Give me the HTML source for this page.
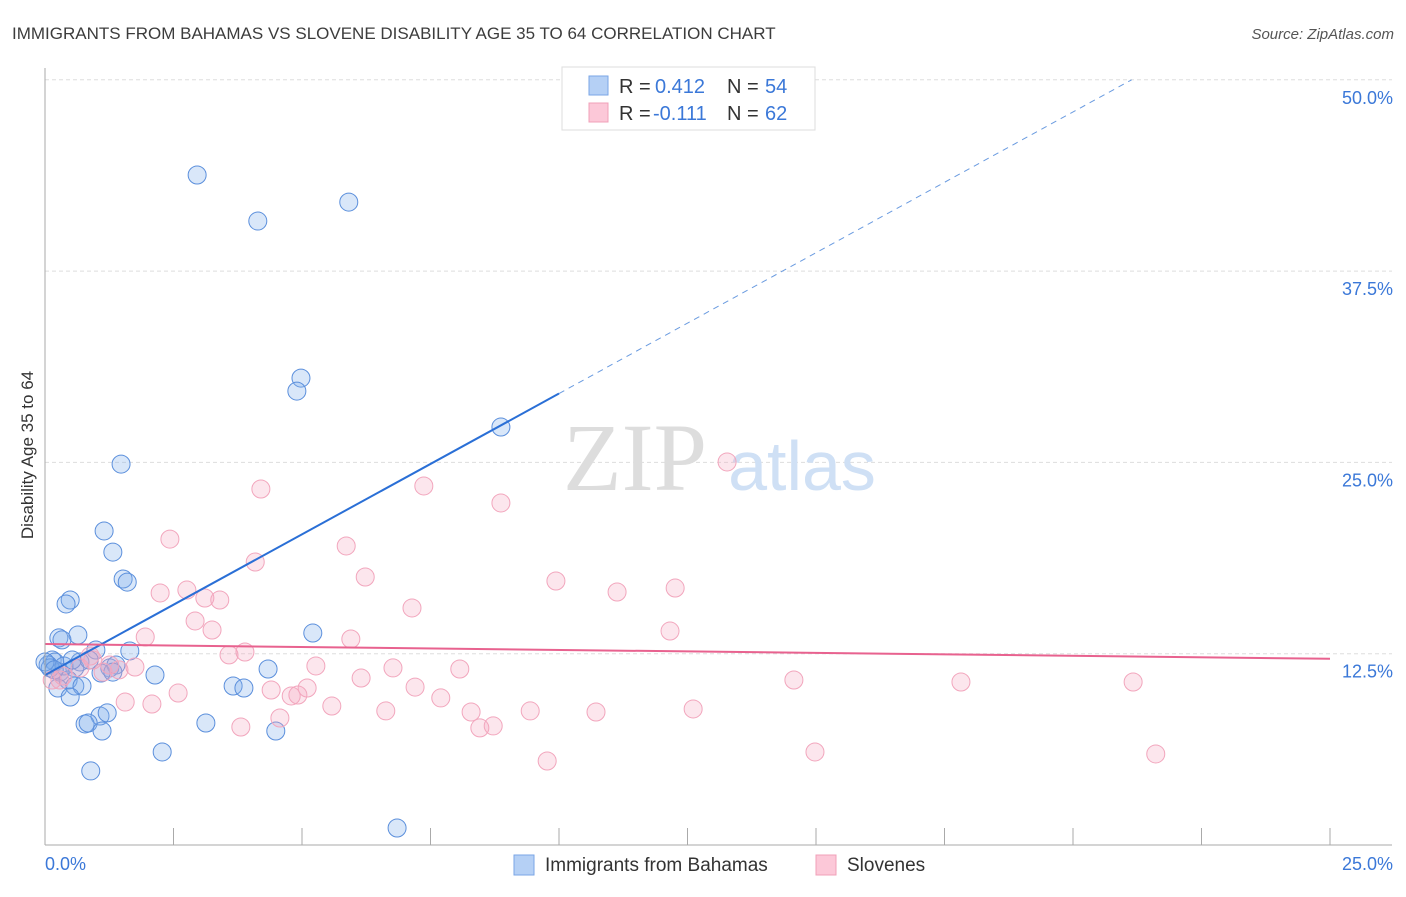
<!DOCTYPE html>
<html><head><meta charset="utf-8"><style>
body{margin:0;background:#fff;font-family:"Liberation Sans",sans-serif;}
svg text{font-family:"Liberation Sans",sans-serif;}
</style></head><body>
<svg width="1406" height="892">
<text x="12" y="39" font-size="17" fill="#3c3c3c">IMMIGRANTS FROM BAHAMAS VS SLOVENE DISABILITY AGE 35 TO 64 CORRELATION CHART</text>
<text x="1394" y="39" font-size="15" fill="#555" font-style="italic" text-anchor="end">Source: ZipAtlas.com</text>
<g id="grid"></g>
<text x="635" y="490" font-size="96" fill="#ddd" text-anchor="middle" style="font-family:'Liberation Serif',serif">ZIP</text>
<text x="802" y="490" font-size="70" fill="#cfe0f5" text-anchor="middle">atlas</text>
<g id="pts"></g>
<g id="lines"></g>
<line x1="45" y1="68" x2="45" y2="845" stroke="#aaa"/>
<line x1="45" y1="845" x2="1392" y2="845" stroke="#aaa"/>
<text x="33" y="455" font-size="17" fill="#333" text-anchor="middle" transform="rotate(-90 33 455)">Disability Age 35 to 64</text>
<text x="45" y="870" font-size="18" fill="#3b78d8">0.0%</text>
<text x="1393" y="870" font-size="18" fill="#3b78d8" text-anchor="end">25.0%</text>
<g>
<rect x="562" y="67" width="253" height="63" fill="#fff" stroke="#ddd"/>
<rect x="589" y="76" width="19" height="19" fill="#b5d0f5" stroke="#7aa6e6"/>
<rect x="589" y="103" width="19" height="19" fill="#fcc8d8" stroke="#f0a0b8"/>
<text x="619" y="93" font-size="20" fill="#333">R =</text>
<text x="655" y="93" font-size="20" fill="#3b78d8">0.412</text>
<text x="727" y="93" font-size="20" fill="#333">N =</text>
<text x="765" y="93" font-size="20" fill="#3b78d8">54</text>
<text x="619" y="120" font-size="20" fill="#333">R =</text>
<text x="653" y="120" font-size="20" fill="#3b78d8">-0.111</text>
<text x="727" y="120" font-size="20" fill="#333">N =</text>
<text x="765" y="120" font-size="20" fill="#3b78d8">62</text>
</g>
<g>
<rect x="514" y="855" width="20" height="20" fill="#b5d0f5" stroke="#7aa6e6"/>
<text x="545" y="871" font-size="19" fill="#333">Immigrants from Bahamas</text>
</g>
<g>
<rect x="816" y="855" width="20" height="20" fill="#fcc8d8" stroke="#f0a0b8"/>
<text x="847" y="871" font-size="19" fill="#333">Slovenes</text>
</g>
</svg>
<script>
const yTicks=[12.5,25,37.5,50];
const yTickLabels=["12.5%","25.0%","37.5%","50.0%"];
const xTicks=[0,2.5,5,7.5,10,12.5,15,17.5,20,22.5,25];
const blueX=[2.96,4.14,5.91,4.98,4.90,8.87,1.48,1.15,1.32,1.52,1.60,0.49,0.41,0.64,0.27,0.33,0.99,1.65,0.14,0.19,0.06,0.68,0.58,0.86,1.26,1.38,2.14,4.34,5.21,0.29,0.45,0.58,0.72,0.25,0.49,3.66,3.87,1.09,1.32,1.07,1.21,0.78,0.84,1.11,3.13,4.49,2.28,0.89,6.85,0.10,0.37,0.53,0,0.18];
const blueY=[43.78,40.77,42.01,30.51,29.66,27.31,24.89,20.52,19.14,17.38,17.18,16.01,15.75,13.72,13.53,13.40,12.74,12.68,12.09,11.96,11.76,11.96,11.57,12.09,11.57,11.76,11.11,11.50,13.85,11.30,10.78,10.39,10.39,10.26,9.67,10.39,10.26,11.24,11.30,8.43,8.63,7.91,7.97,7.45,7.97,7.45,6.08,4.84,1.11,11.57,11.70,12.09,11.96,11.44];
const pinkX=[13.27,4.20,7.37,8.87,2.43,5.86,4.09,6.23,9.94,11.13,12.26,2.24,2.76,3.11,3.40,7.14,2.92,3.25,1.95,5.95,12.16,3.89,3.58,0.93,5.27,6.77,8.07,1.75,1.44,1.13,0.35,0.14,6.15,7.20,14.57,17.82,21.17,5.10,4.40,4.79,4.92,2.59,2.08,1.56,7.70,5.58,6.63,4.57,8.29,9.44,10.72,12.61,3.81,8.46,8.72,14.98,9.77,21.61,0.29,0.68,1.26,0.88];
const pinkY=[25.03,23.26,23.46,22.35,19.99,19.54,18.49,17.51,17.25,16.53,16.79,16.47,16.66,16.14,16.01,15.49,14.64,14.05,13.59,13.46,13.98,12.61,12.42,12.09,11.70,11.57,11.50,11.63,11.44,11.30,11.04,10.78,10.91,10.32,10.78,10.65,10.65,10.26,10.13,9.74,9.80,9.93,9.21,9.34,9.61,9.08,8.76,8.30,8.69,8.76,8.69,8.89,7.71,7.65,7.78,6.08,5.49,5.95,10.78,11.57,11.76,12.35];
const blueTrend=[11.1,1.84];
const pinkTrend=[13.13,-0.0384];
const NS="http://www.w3.org/2000/svg";
const sx=v=>45+v/25*1285, sy=v=>845-v/12.5*191.3;
function mk(t,a,p){const e=document.createElementNS(NS,t);for(const k in a)e.setAttribute(k,a[k]);p.appendChild(e);return e;}
const grid=document.getElementById('grid');
yTicks.forEach((t,i)=>{
 const l=mk('line',{x1:45,x2:1392,y1:sy(t),y2:sy(t),stroke:'#ddd','stroke-dasharray':'4,3'},grid);
 
 
 const tx=mk('text',{x:1393,y:sy(t)+24,'font-size':18,fill:'#3b78d8','text-anchor':'end'},grid);
 tx.textContent=yTickLabels[i];
 
 
});
xTicks.forEach(t=>{
 const l=mk('line',{x1:sx(t),x2:sx(t),y1:828,y2:845,stroke:'#aaa'},grid);
 
 
});
const pts=document.getElementById('pts');
blueX.forEach((x,i)=>{
 const c=mk('circle',{cx:sx(x),cy:sy(blueY[i]),r:9,fill:'rgba(130,175,235,0.3)',stroke:'#5b8fdc','stroke-width':1},pts);
 
 
});
pinkX.forEach((x,i)=>{
 const c=mk('circle',{cx:sx(x),cy:sy(pinkY[i]),r:9,fill:'rgba(245,165,190,0.28)',stroke:'#f2a6bd','stroke-width':1},pts);
 
 
});
const lines=document.getElementById('lines');
const bf=x=>blueTrend[0]+blueTrend[1]*x;
let l1=mk('line',{x1:sx(0),y1:sy(bf(0)),x2:sx(10),y2:sy(bf(10)),stroke:'#2a6fd6','stroke-width':2},lines);


const xEnd=(50-blueTrend[0])/blueTrend[1];
let l2=mk('line',{x1:sx(10),y1:sy(bf(10)),x2:sx(xEnd),y2:sy(bf(xEnd)),stroke:'#6a9be0','stroke-width':1,'stroke-dasharray':'6,5'},lines);


const pf=x=>pinkTrend[0]+pinkTrend[1]*x;
let l3=mk('line',{x1:sx(0),y1:sy(pf(0)),x2:sx(25),y2:sy(pf(25)),stroke:'#e8628f','stroke-width':2},lines);


</script>
</body></html>
